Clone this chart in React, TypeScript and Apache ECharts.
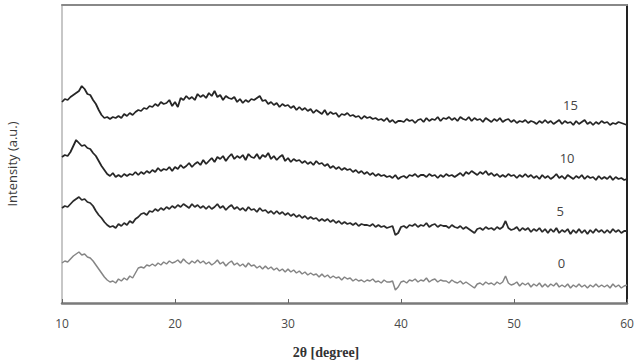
import React, { useEffect, useRef } from "react";
import * as echarts from "echarts";

// Scan grid: 2θ from 10° to 60°, step 0.25°
const angles: number[] = Array.from({ length: 201 }, (_, i) => 10 + i * 0.25);

const xTicks = [10, 20, 30, 40, 50, 60];

// Intensities (a.u., vertically offset curves), one value per 0.25°
const s15 = [
  201, 204, 203, 206, 208, 210, 212, 217, 214, 209, 208, 203, 199, 193, 188, 185,
  186, 184, 186, 185, 187, 185, 189, 187, 190, 188, 191, 193, 192, 195, 194, 197,
  196, 199, 197, 201, 199, 200, 203, 197, 201, 196, 205, 203, 207, 204, 206, 203,
  209, 206, 208, 205, 210, 207, 212, 206, 208, 203, 207, 205, 204, 206, 201, 204,
  200, 203, 201, 204, 203, 205, 207, 202, 203, 199, 201, 198, 200, 196, 199, 197,
  198, 195, 197, 193, 196, 193, 195, 192, 194, 190, 193, 191, 189, 193, 188, 191,
  189, 190, 186, 189, 188, 190, 187, 188, 186, 187, 184, 187, 185, 186, 184, 185,
  183, 184, 182, 185, 181, 183, 180, 182, 182, 181, 184, 182, 183, 180, 183, 184,
  181, 185, 182, 184, 183, 186, 182, 185, 184, 186, 183, 185, 182, 186, 184, 183,
  186, 182, 185, 183, 184, 181, 185, 183, 181, 184, 182, 185, 181, 183, 184, 181,
  183, 180, 182, 181, 183, 180, 182, 181, 179, 182, 180, 183, 180, 182, 179, 181,
  183, 179, 182, 180, 181, 178, 182, 179, 181, 183, 179, 181, 178, 181, 179, 182,
  180, 181, 178, 180, 179, 181, 180, 179, 178,
];

const s10 = [
  146, 148, 147, 151, 157, 163, 160, 157, 158, 155, 154, 150, 147, 142, 137, 133,
  129, 127, 130, 126, 128, 126, 129, 127, 129, 128, 131, 128, 131, 129, 132, 130,
  133, 131, 135, 132, 134, 133, 136, 132, 136, 134, 138, 135, 137, 140, 136, 139,
  141, 138, 143, 139, 142, 145, 141, 146, 144, 147, 142, 146, 149, 144, 147, 145,
  148, 143, 149, 146, 145, 149, 144, 148, 146, 150, 144, 147, 143, 146, 148, 142,
  145, 141, 144, 142, 143, 140, 142, 139, 141, 138, 142, 139, 140, 137, 139, 135,
  137, 134, 136, 133, 135, 133, 134, 131, 133, 130, 132, 129, 131, 128, 130, 127,
  129, 127, 128, 126, 127, 125, 128, 124, 126, 127, 125, 128, 127, 129, 126, 128,
  128, 126, 129, 127, 128, 125, 128, 126, 129, 127, 128, 126, 128, 130, 127, 131,
  129, 132, 130, 128, 131, 129, 132, 128, 130, 127, 129, 126, 128, 126, 129, 127,
  128, 125, 128, 126, 129, 126, 128, 125, 127, 124, 128, 125, 127, 124, 126, 129,
  125, 127, 124, 128, 126, 124, 127, 125, 128, 124, 127, 125, 126, 123, 127, 124,
  126, 124, 127, 123, 126, 124, 125, 123, 124,
];

const s5 = [
  95, 97, 96, 99, 102, 104, 106, 103, 104, 101, 100, 97, 92, 88, 85, 81,
  78, 76, 77, 75, 79, 77, 80, 78, 82, 80, 84, 86, 89, 90, 88, 92,
  91, 94, 92, 95, 93, 96, 94, 97, 95, 98, 96, 99, 97, 95, 99, 96,
  98, 95, 97, 94, 97, 94, 96, 99, 95, 97, 93, 96, 98, 94, 96, 93,
  95, 92, 96, 93, 94, 91, 95, 92, 93, 90, 92, 89, 92, 89, 91, 88,
  90, 87, 89, 86, 88, 85, 87, 84, 86, 84, 85, 82, 84, 82, 84, 81,
  83, 80, 82, 79, 81, 79, 80, 78, 80, 77, 79, 78, 78, 77, 79, 76,
  78, 76, 77, 75, 76, 77, 68, 70, 76, 77, 75, 78, 77, 79, 76, 78,
  77, 80, 76, 78, 79, 76, 78, 77, 77, 75, 78, 76, 75, 77, 74, 76,
  74, 72, 70, 74, 75, 73, 76, 74, 75, 73, 76, 74, 76, 82, 75, 73,
  74, 76, 72, 75, 73, 75, 71, 74, 72, 75, 71, 74, 70, 74, 71, 75,
  70, 73, 71, 74, 69, 73, 70, 74, 70, 73, 69, 73, 70, 74, 71, 73,
  70, 73, 70, 74, 71, 73, 70, 72, 72,
];

const s0 = [
  40, 42, 41, 44, 47, 49, 51, 48, 49, 46, 45, 42, 38, 34, 30, 26,
  23, 21, 22, 20, 24, 22, 25, 23, 27, 25, 30, 35, 36, 35, 38, 37,
  39, 37, 40, 38, 41, 39, 42, 40, 41, 43, 40, 44, 41, 39, 42, 40,
  43, 40, 42, 39, 41, 38, 40, 43, 39, 41, 37, 40, 42, 38, 40, 37,
  39, 36, 40, 37, 38, 35, 37, 34, 37, 34, 36, 33, 35, 32, 34, 31,
  34, 31, 33, 30, 32, 29, 31, 28, 30, 28, 29, 26, 29, 26, 28, 25,
  27, 25, 26, 23, 26, 24, 25, 22, 24, 22, 23, 21, 23, 22, 24, 21,
  22, 20, 23, 21, 21, 22, 13, 16, 21, 22, 20, 23, 22, 24, 21, 23,
  22, 25, 21, 23, 24, 21, 23, 22, 22, 20, 23, 21, 20, 22, 19, 21,
  19, 17, 15, 19, 20, 18, 21, 19, 20, 18, 21, 19, 21, 27, 20, 18,
  19, 21, 17, 20, 18, 20, 16, 19, 17, 20, 16, 19, 16, 19, 17, 20,
  16, 18, 16, 19, 15, 18, 16, 19, 16, 18, 15, 18, 16, 19, 16, 18,
  16, 18, 15, 19, 16, 18, 15, 17, 18,
];

const seriesNames = ["15", "10", "5", "0"];
const seriesValues = [s15, s10, s5, s0];
const labelAngles = [55, 54.7, 54.1, 54.2];
const labelValues = [198, 145, 92, 40];
const lineColors = ["#262626", "#262626", "#2b2b2b", "#858585"];
const lineWidths = [1.8, 1.8, 1.8, 1.5];

export default function App() {
  const ref = useRef<HTMLDivElement>(null);

  useEffect(() => {
    if (!ref.current) return;
    const chart = echarts.init(ref.current, null, { renderer: "svg" });

    const series = seriesNames.map((name, k) => ({
      name,
      type: "line",
      showSymbol: false,
      symbol: "none",
      data: angles.map((a, i) => [a, seriesValues[k][i]]),
      lineStyle: { color: lineColors[k], width: lineWidths[k] },
      markPoint: {
        symbol: "circle",
        symbolSize: 0,
        data: [
          {
            coord: [labelAngles[k], labelValues[k]],
            label: {
              show: true,
              formatter: name,
              position: "inside",
              color: "#444",
              fontSize: 13,
              fontFamily: "'Liberation Sans Narrow', 'Open Sans', sans-serif",
            },
          },
        ],
      },
    }));

    chart.setOption({
      animation: false,
      backgroundColor: "#ffffff",
      grid: { left: 62, right: 12, top: 5, bottom: 57, containLabel: false },
      xAxis: [
        {
          type: "value",
          min: xTicks[0],
          max: xTicks[xTicks.length - 1],
          interval: 10,
          position: "bottom",
          axisLine: { show: true, onZero: false, lineStyle: { color: "#7a7a7a", width: 2.5 } },
          axisTick: { show: true, inside: true, length: 4, lineStyle: { color: "#666", width: 1 } },
          axisLabel: {
            color: "#4a4a4a",
            fontSize: 12,
            margin: 14,
            fontFamily: "'Liberation Sans Narrow', 'Open Sans', sans-serif",
          },
          splitLine: { show: false },
        },
        {
          type: "value",
          min: xTicks[0],
          max: xTicks[xTicks.length - 1],
          position: "top",
          axisLine: { show: true, onZero: false, lineStyle: { color: "#888", width: 2 } },
          axisTick: { show: false },
          axisLabel: { show: false },
          splitLine: { show: false },
        },
      ],
      yAxis: [
        {
          type: "value",
          min: 0,
          max: 298,
          position: "left",
          axisLine: { show: true, onZero: false, lineStyle: { color: "#b5b5b5", width: 1.5 } },
          axisTick: { show: false },
          axisLabel: { show: false },
          splitLine: { show: false },
        },
        {
          type: "value",
          min: 0,
          max: 298,
          position: "right",
          axisLine: { show: true, onZero: false, lineStyle: { color: "#222", width: 2 } },
          axisTick: { show: false },
          axisLabel: { show: false },
          splitLine: { show: false },
        },
      ],
      graphic: [
        {
          type: "text",
          x: 12,
          y: 164,
          rotation: Math.PI / 2,
          style: {
            text: "Intensity (a.u.)",
            fill: "#3a3a3a",
            fontSize: 13,
            fontFamily: "'Liberation Sans Narrow', 'Open Sans', sans-serif",
            align: "center",
            verticalAlign: "middle",
          },
        },
        {
          type: "text",
          x: 326,
          y: 352,
          style: {
            text: "2θ [degree]",
            fill: "#333",
            fontSize: 14,
            fontWeight: "bold",
            fontFamily: "'Liberation Serif', 'DejaVu Serif', serif",
            align: "center",
            verticalAlign: "middle",
          },
        },
      ],
      series,
    });

    return () => chart.dispose();
  }, []);

  return (
    <div
      ref={ref}
      style={{ position: "absolute", left: 0, top: 0, width: 639, height: 360 }}
    />
  );
}
